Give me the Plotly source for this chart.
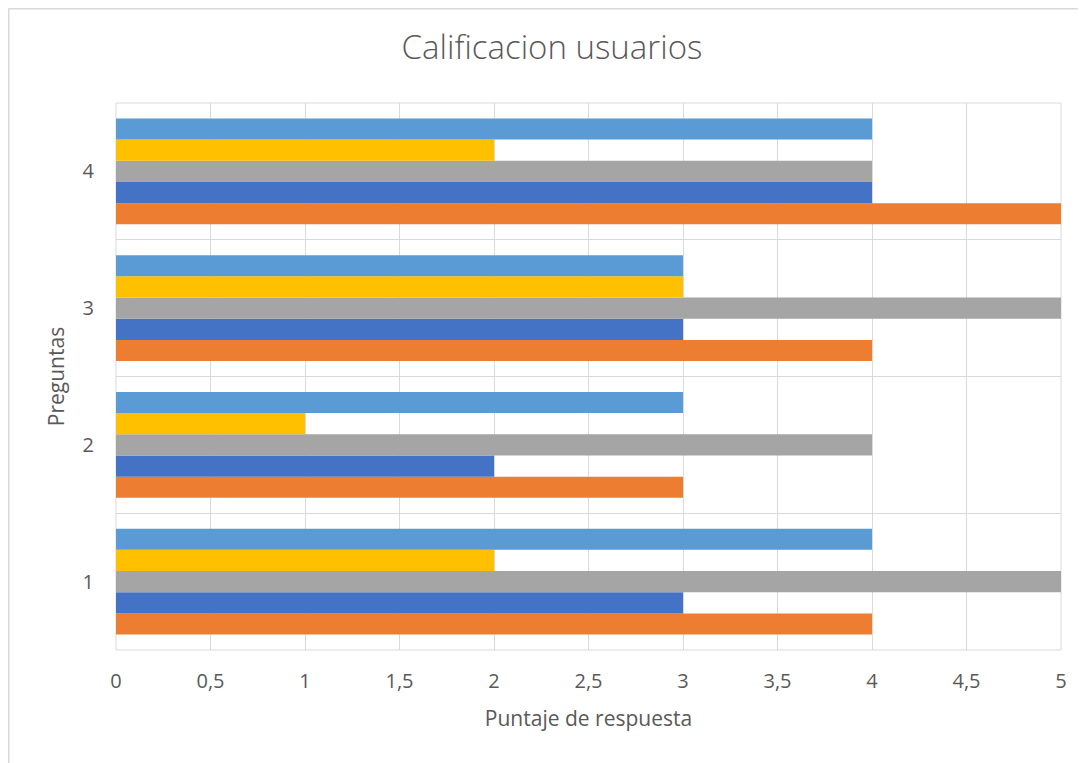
import plotly.graph_objects as go

preguntas = ["1", "2", "3", "4"]
pos = [1, 2, 3, 4]
serie_naranja = [4, 3, 4, 5]
serie_azul = [3, 2, 3, 4]
serie_gris = [5, 4, 5, 4]
serie_amarilla = [2, 1, 3, 2]
serie_celeste = [4, 3, 3, 4]

series = [
    ("Serie 1", serie_naranja, "#ED7D31"),
    ("Serie 2", serie_azul, "#4472C4"),
    ("Serie 3", serie_gris, "#A5A5A5"),
    ("Serie 4", serie_amarilla, "#FFC000"),
    ("Serie 5", serie_celeste, "#5B9BD5"),
]

fig = go.Figure()
for name, vals, col in series:
    fig.add_trace(go.Bar(
        x=vals, y=pos, orientation="h", name=name,
        marker=dict(color=col, line=dict(width=0)),
    ))

txt = "#595959"
font = "Open Sans, Calibri, sans-serif"

fig.update_layout(
    width=1078, height=755,
    margin=dict(l=108, r=25, t=95, b=113),
    paper_bgcolor="white", plot_bgcolor="white",
    barmode="group", bargap=0.226, bargroupgap=0,
    showlegend=False,
    separators=",.",
    font=dict(family=font, color=txt, size=20),
    title=dict(text="Calificacion usuarios", x=0.5046, xanchor="center",
               y=0.948, yanchor="middle",
               font=dict(size=33, color=txt, family=font, weight=300)),
    xaxis=dict(
        range=[0, 5], dtick=0.5, tick0=0, showgrid=True,
        gridcolor="#D9D9D9", gridwidth=1, zeroline=False,
        showline=False, ticks="", ticklabelstandoff=17,
        tickfont=dict(size=20, color=txt),
        title=dict(text="Puntaje de respuesta", standoff=18,
                   font=dict(size=21, color=txt)),
    ),
    yaxis=dict(
        range=[0.5, 4.5], tickvals=pos, ticktext=preguntas,
        showgrid=False, zeroline=False, showline=False, ticks="",
        ticklabelstandoff=21,
        tickfont=dict(size=20, color=txt),
        minor=dict(tick0=0.5, dtick=1, showgrid=True,
                   gridcolor="#D9D9D9", gridwidth=1, ticks=""),
        title=dict(text="Preguntas", standoff=12,
                   font=dict(size=21, color=txt)),
    ),
)

# plot area frame
fig.add_shape(type="rect", xref="paper", yref="paper", x0=0, x1=1, y0=0, y1=1,
              line=dict(color="#D9D9D9", width=1), layer="below")
# chart area border
fig.add_shape(type="rect", xref="paper", yref="paper",
              x0=-0.1135, x1=1.2, y0=-0.3, y1=1.1723,
              line=dict(color="#D9D9D9", width=1.5), layer="below")

fig.write_html("out.html")
